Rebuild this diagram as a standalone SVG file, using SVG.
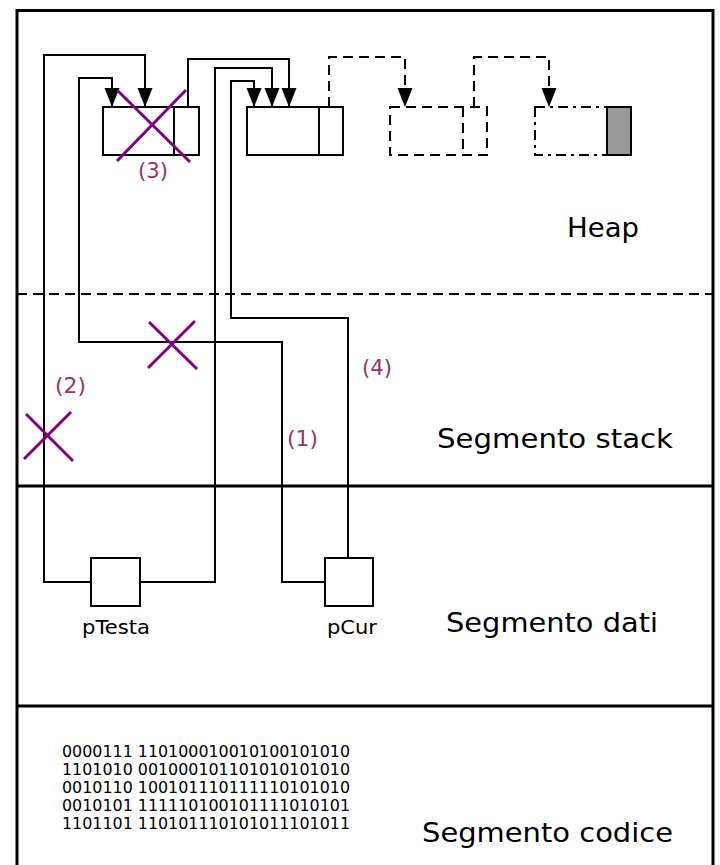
<svg xmlns="http://www.w3.org/2000/svg" width="720" height="865" viewBox="0 0 720 865">
<style>
.frame{fill:none;stroke:#000;stroke-width:3}
.ln{fill:none;stroke:#000;stroke-width:2}
.dash{fill:none;stroke:#000;stroke-width:2;stroke-dasharray:10,6}
.dashdot{fill:none;stroke:#000;stroke-width:2;stroke-dasharray:10,5,3,5}
.box{fill:#fff;stroke:#000;stroke-width:2}
.x{stroke:#800080;stroke-width:3}
.seg{font-family:"DejaVu Sans","Liberation Sans",sans-serif;font-size:27px;fill:#000}
.var{font-family:"DejaVu Sans","Liberation Sans",sans-serif;font-size:19px;fill:#000}
.bin{font-family:"DejaVu Sans","Liberation Sans",sans-serif;font-size:15.5px;fill:#000}
.num{font-family:"DejaVu Sans","Liberation Sans",sans-serif;font-size:20.5px;fill:#993366}
</style>
<defs>
<marker id="ah" viewBox="0 -8 19 16" refX="19" refY="0" markerWidth="19" markerHeight="16" markerUnits="userSpaceOnUse" orient="auto">
<path d="M0,-7.5 L19,0 L0,7.5 z" fill="#000"/>
</marker>
</defs>
<rect width="720" height="865" fill="#fff"/>
<g id="frame">
<path class="frame" d="M17,865 V10.5 H713 V865"/>
<line class="dash" x1="17" y1="294" x2="713" y2="294"/>
<line class="frame" x1="17" y1="486" x2="713" y2="486"/>
<line class="frame" x1="17" y1="706" x2="713" y2="706"/>
</g>
<g id="connectors">
<path class="ln" d="M91,582 H44 V55 H145 V107" marker-end="url(#ah)"/>
<path class="ln" d="M325,582 H282 V342 H79 V78 H112 V107" marker-end="url(#ah)"/>
<path class="ln" d="M140,582 H215 V68 H272 V107" marker-end="url(#ah)"/>
<path class="ln" d="M348,558 V318 H231 V81 H254 V107" marker-end="url(#ah)"/>
<path class="ln" d="M188,107 V59 H289 V107" marker-end="url(#ah)"/>
<path class="dash" d="M329,107 V57 H405 V107" marker-end="url(#ah)"/>
<path class="dash" d="M474,107 V57 H549 V107" marker-end="url(#ah)"/>
</g>
<g id="node1">
<rect class="box" x="103" y="107" width="96" height="48"/>
<line class="ln" x1="174" y1="107" x2="174" y2="155"/>
</g>
<g id="node2">
<rect class="box" x="247" y="107" width="96" height="48"/>
<line class="ln" x1="319" y1="107" x2="319" y2="155"/>
</g>
<g id="node3">
<rect class="dash" x="390" y="107" width="97" height="48"/>
<line class="dash" x1="463" y1="107" x2="463" y2="155"/>
</g>
<g id="node4">
<rect class="dashdot" x="535" y="107" width="72" height="48"/>
<rect x="607" y="107" width="24" height="48" fill="#999" stroke="#000" stroke-width="2"/>
</g>
<g id="pTesta">
<rect class="box" x="91" y="558" width="49" height="48"/>
<text class="var" x="82" y="634" textLength="68" lengthAdjust="spacingAndGlyphs">pTesta</text>
</g>
<g id="pCur">
<rect class="box" x="325" y="558" width="48" height="48"/>
<text class="var" x="327" y="634" textLength="50" lengthAdjust="spacingAndGlyphs">pCur</text>
</g>
<g id="crosses">
<line class="x" x1="117" y1="90" x2="190" y2="162"/>
<line class="x" x1="117" y1="161" x2="186" y2="90"/>
<line class="x" x1="149" y1="322" x2="197" y2="369"/>
<line class="x" x1="148" y1="368" x2="195" y2="321"/>
<line class="x" x1="26" y1="414" x2="73" y2="461"/>
<line class="x" x1="24" y1="459" x2="71" y2="412"/>
</g>
<g id="labels">
<text class="num" x="138" y="178" textLength="30" lengthAdjust="spacingAndGlyphs">(3)</text>
<text class="num" x="55" y="393" textLength="31" lengthAdjust="spacingAndGlyphs">(2)</text>
<text class="num" x="287" y="446" textLength="31" lengthAdjust="spacingAndGlyphs">(1)</text>
<text class="num" x="362" y="375" textLength="30" lengthAdjust="spacingAndGlyphs">(4)</text>
<text class="seg" x="567" y="237" textLength="72" lengthAdjust="spacingAndGlyphs">Heap</text>
<text class="seg" x="437" y="448" textLength="236" lengthAdjust="spacingAndGlyphs">Segmento stack</text>
<text class="seg" x="446" y="632" textLength="212" lengthAdjust="spacingAndGlyphs">Segmento dati</text>
<text class="seg" x="422" y="842" textLength="251" lengthAdjust="spacingAndGlyphs">Segmento codice</text>
</g>
<g id="code">
<text class="bin" x="62" y="757" textLength="288" lengthAdjust="spacingAndGlyphs">0000111 110100010010100101010</text>
<text class="bin" x="62" y="775" textLength="288" lengthAdjust="spacingAndGlyphs">1101010 001000101101010101010</text>
<text class="bin" x="62" y="793" textLength="288" lengthAdjust="spacingAndGlyphs">0010110 100101110111110101010</text>
<text class="bin" x="62" y="811" textLength="288" lengthAdjust="spacingAndGlyphs">0010101 111110100101111010101</text>
<text class="bin" x="62" y="829" textLength="288" lengthAdjust="spacingAndGlyphs">1101101 110101110101011101011</text>
</g>
</svg>
